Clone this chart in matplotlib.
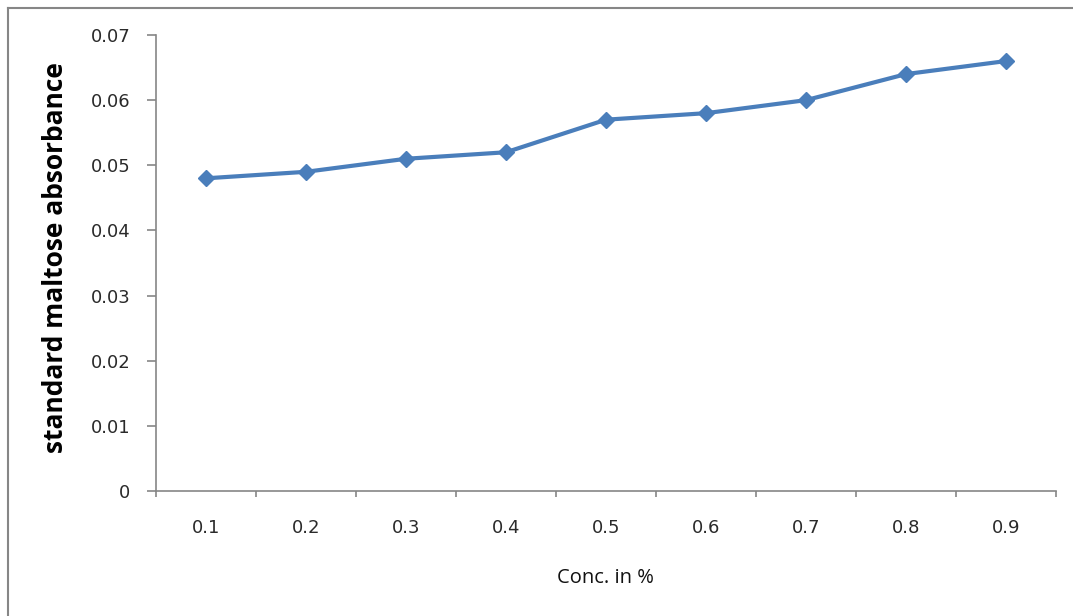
import matplotlib
matplotlib.use("Agg")
import matplotlib.pyplot as plt
from matplotlib.lines import Line2D

categories = ["0.1", "0.2", "0.3", "0.4", "0.5", "0.6", "0.7", "0.8", "0.9"]
absorbance = [0.048, 0.049, 0.051, 0.052, 0.057, 0.058, 0.060, 0.064, 0.066]
yticks = [0, 0.01, 0.02, 0.03, 0.04, 0.05, 0.06, 0.07]
ytick_labels = ["0", "0.01", "0.02", "0.03", "0.04", "0.05", "0.06", "0.07"]

W, H = 1073, 616
fig = plt.figure(figsize=(W / 100, H / 100), dpi=100)
fig.patch.set_facecolor("white")

left, right, top, bottom = 156, 1056, 35, 491
ax = fig.add_axes([left / W, 1 - bottom / H, (right - left) / W, (bottom - top) / H])

x = list(range(len(categories)))
ax.plot(x, absorbance, color="#4A7EBB", lw=3, marker="D", ms=8.5,
        markerfacecolor="#4A7EBB", markeredgecolor="#4A7EBB", solid_capstyle="round",
        clip_on=False)

ax.set_xlim(-0.5, len(categories) - 0.5)
ax.set_ylim(0, 0.07)
ax.set_yticks(yticks)
ax.set_yticklabels(ytick_labels)
ax.set_xticks(x)
ax.set_xticklabels(categories)
ax.set_xticks([i - 0.5 for i in range(len(categories) + 1)], minor=True)
ax.tick_params(axis="x", which="major", length=0, pad=20)
ax.tick_params(axis="x", which="minor", length=4, width=1.2, color="#868686", direction="out")
ax.tick_params(axis="y", length=6.5, width=1.2, color="#868686", direction="out", pad=12)
for lab in ax.get_xticklabels() + ax.get_yticklabels():
    lab.set_fontfamily("DejaVu Sans")
    lab.set_fontsize(13)
    lab.set_color("#2a2a2a")

for s in ["top", "right"]:
    ax.spines[s].set_visible(False)
for s in ["left", "bottom"]:
    ax.spines[s].set_color("#868686")
    ax.spines[s].set_linewidth(1.2)

fig.text(56 / W, 1 - 258 / H, "standard maltose absorbance", rotation=90,
         ha="center", va="center", fontsize=19, fontweight="bold", family="Open Sans",
         color="black")
fig.text(605 / W, 1 - 578 / H, "Conc. in %", ha="center", va="center",
         fontsize=14.5, family="Open Sans", color="#111111")

# outer frame lines (top and left)
fig.add_artist(Line2D([8 / W, 1], [1 - 8 / H, 1 - 8 / H], transform=fig.transFigure,
                      color="#868686", lw=1.5))
fig.add_artist(Line2D([8 / W, 8 / W], [0, 1 - 8 / H], transform=fig.transFigure,
                      color="#868686", lw=1.5))

fig.savefig("out.png", dpi=100)
